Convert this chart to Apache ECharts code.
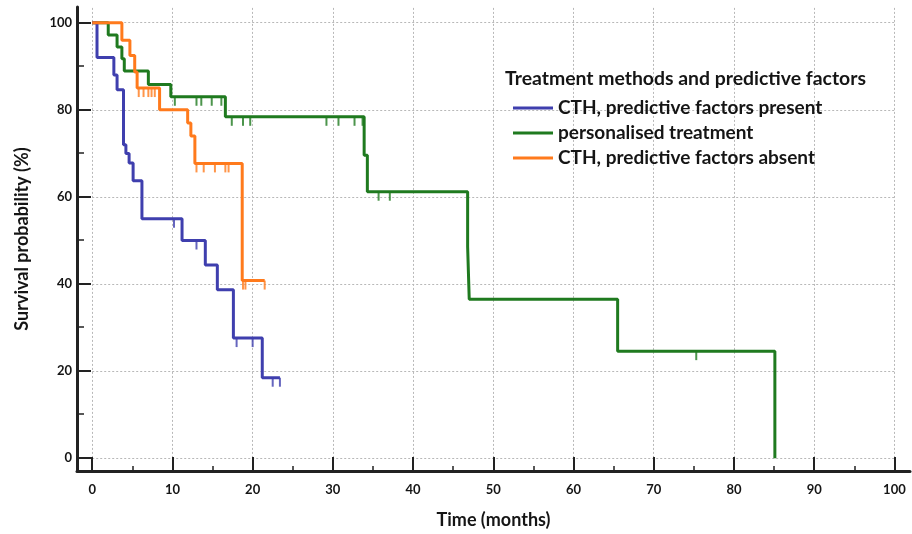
<!DOCTYPE html>
<html>
<head>
<meta charset="utf-8">
<script src="https://cdn.jsdelivr.net/npm/echarts@6/dist/echarts.min.js"></script>
<style>
html,body{margin:0;padding:0;background:#fff;}
#chart{width:912px;height:534px;}
</style>
</head>
<body>
<div id="chart"></div>
<script>
// ---- Data ----
const seriesNames = ['CTH, predictive factors present', 'personalised treatment', 'CTH, predictive factors absent'];
const legendTitle = 'Treatment methods and predictive factors';
const xTitle = 'Time (months)';
const yTitle = 'Survival probability (%)';

// CTH, predictive factors present (blue)
const blueTimes = [0, 0.6, 2.7, 3.1, 3.9, 4.2, 4.6, 5.1, 6.2, 11.2, 14.1, 15.6, 17.6, 21.2, 23.4];
const blueSurv  = [100, 92, 88, 84.6, 72, 70, 67.8, 63.7, 55, 50, 44.4, 38.7, 27.6, 18.5, 18.5];
const blueCensor = [10.2, 13.0, 18.0, 20.0, 22.5, 23.4];

// personalised treatment (green)
const greenTimes = [0, 2.0, 3.1, 3.7, 4.0, 7.0, 9.8, 16.6, 33.9, 34.3, 46.8, 47.0, 65.5, 85.1];
const greenSurv  = [100, 97.2, 94.4, 91.7, 88.9, 85.8, 83.0, 78.4, 69.6, 61.2, 48.6, 36.5, 24.6, 0];
const greenCensor = [10.3, 13.0, 13.6, 14.9, 16.1, 17.4, 18.8, 19.7, 29.2, 30.7, 32.7, 33.7, 35.7, 37.1, 75.3];

// CTH, predictive factors absent (orange)
const orangeTimes = [0, 3.7, 4.7, 5.3, 5.6, 8.4, 11.9, 12.3, 12.8, 18.7, 21.5];
const orangeSurv  = [100, 96, 92.5, 88.7, 85, 80, 77, 74, 67.7, 40.8, 40.8];
const orangeCensor = [5.8, 6.4, 7.0, 7.4, 7.8, 13.0, 13.9, 15.3, 16.6, 17.0, 18.8, 19.1, 21.5];

const xTicks = [0, 10, 20, 30, 40, 50, 60, 70, 80, 90, 100];
const xMinorTicks = [5, 15, 25, 35, 45, 55, 65, 75, 85, 95];
const yTicks = [0, 20, 40, 60, 80, 100];
const yMinorTicks = [10, 30, 50, 70, 90];

// ---- helpers ----
function curve(times, surv) { return times.map((t, i) => [t, surv[i]]); }
function survAt(times, surv, t) {
  let s = surv[0];
  for (let i = 0; i < times.length; i++) { if (times[i] <= t) s = surv[i]; }
  return s;
}
function censorPts(times, surv, cens) { return cens.map(t => [t, survAt(times, surv, t)]); }

const colors = { blue: '#3f3fae', green: '#1f7a1f', orange: '#ff7a1c' };
const FONT = 'Lato';
const TXT = '#151515';
const AX = '#222';

// frame (axis box) extents, chosen so that the frame axes share the data scale
const X_MIN = -1.895, X_MAX = 101.945;
const Y_MIN = -3.145, Y_MAX = 103.6;

const chart = echarts.init(document.getElementById('chart'), null, { renderer: 'canvas' });

function kmLine(name, times, surv, color, z) {
  return {
    name: name, type: 'line', step: 'end', xAxisIndex: 1, yAxisIndex: 1,
    data: curve(times, surv), showSymbol: false, symbol: 'none', z: z,
    lineStyle: { color: color, width: 3 }, itemStyle: { color: color },
    animation: false
  };
}
function censorSeries(name, times, surv, cens, color, z) {
  return {
    name: name, type: 'scatter', xAxisIndex: 1, yAxisIndex: 1,
    data: censorPts(times, surv, cens), symbol: 'rect', symbolSize: [2, 9],
    symbolOffset: [0, '50%'], itemStyle: { color: color }, z: z, animation: false
  };
}
const hidden = { axisLine: { show: false, onZero: false }, axisTick: { show: false }, axisLabel: { show: false } };

const option = {
  backgroundColor: '#ffffff',
  animation: false,
  textStyle: { fontFamily: FONT },
  title: {
    text: legendTitle, left: 500, top: 64,
    textStyle: { fontFamily: FONT, fontSize: 19.4, fontWeight: 'bold', color: TXT }
  },
  legend: {
    data: seriesNames, orient: 'vertical', left: 508, top: 92,
    icon: 'rect', itemWidth: 40, itemHeight: 3, itemGap: 3,
    textStyle: { fontFamily: FONT, fontSize: 19, fontWeight: 'bold', color: TXT, lineHeight: 22 },
    selectedMode: false
  },
  grid: [
    { left: 77, right: 2, top: 7, bottom: 62, containLabel: false },
    { left: 92.2, right: 17.6, top: 7.9, bottom: 75.7, containLabel: false }
  ],
  xAxis: [
    { type: 'value', gridIndex: 0, min: X_MIN, max: X_MAX, position: 'bottom',
      axisLine: { show: true, onZero: false, lineStyle: { color: AX, width: 3 } },
      axisTick: { show: true, inside: true, length: 14, lineStyle: { color: AX, width: 2 }, customValues: xTicks },
      axisLabel: { show: true, margin: 12, fontFamily: FONT, fontSize: 13, fontWeight: 'bold', color: TXT,
        customValues: xTicks },
      splitLine: { show: false },
      name: xTitle, nameLocation: 'middle', nameGap: 40,
      nameTextStyle: { fontFamily: FONT, fontSize: 18, fontWeight: 'bold', color: TXT } },
    Object.assign({ type: 'value', gridIndex: 1, min: 0, max: 100, interval: 10,
      splitLine: { show: true, lineStyle: { color: '#b8b8b8', width: 1, type: [2, 2] } } }, hidden),
    { type: 'value', gridIndex: 0, min: X_MIN, max: X_MAX, position: 'bottom',
      axisLine: { show: false, onZero: false },
      axisTick: { show: true, inside: true, length: 5, lineStyle: { color: AX, width: 1.5 }, customValues: xMinorTicks },
      axisLabel: { show: false }, splitLine: { show: false } }
  ],
  yAxis: [
    { type: 'value', gridIndex: 0, min: Y_MIN, max: Y_MAX, position: 'left',
      axisLine: { show: true, onZero: false, lineStyle: { color: AX, width: 3 } },
      axisTick: { show: true, inside: true, length: 14, lineStyle: { color: AX, width: 2 }, customValues: yTicks },
      axisLabel: { show: true, margin: 5, fontFamily: FONT, fontSize: 13, fontWeight: 'bold', color: TXT,
        customValues: yTicks },
      splitLine: { show: false },
      name: yTitle, nameLocation: 'middle', nameGap: 46,
      nameTextStyle: { fontFamily: FONT, fontSize: 18, fontWeight: 'bold', color: TXT } },
    Object.assign({ type: 'value', gridIndex: 1, min: 0, max: 103.4, interval: 20,
      splitLine: { show: true, showMaxLine: false, lineStyle: { color: '#b8b8b8', width: 1, type: [2, 2] } } }, hidden),
    { type: 'value', gridIndex: 0, min: Y_MIN, max: Y_MAX, position: 'left',
      axisLine: { show: false, onZero: false },
      axisTick: { show: true, inside: true, length: 7, lineStyle: { color: AX, width: 1.5 }, customValues: yMinorTicks },
      axisLabel: { show: false }, splitLine: { show: false } }
  ],
  series: [
    kmLine(seriesNames[1], greenTimes, greenSurv, colors.green, 3),
    censorSeries('g-censor', greenTimes, greenSurv, greenCensor, colors.green, 3),
    kmLine(seriesNames[0], blueTimes, blueSurv, colors.blue, 4),
    censorSeries('b-censor', blueTimes, blueSurv, blueCensor, colors.blue, 4),
    kmLine(seriesNames[2], orangeTimes, orangeSurv, colors.orange, 5),
    censorSeries('o-censor', orangeTimes, orangeSurv, orangeCensor, colors.orange, 5)
  ]
};
chart.setOption(option);
</script>
</body>
</html>
